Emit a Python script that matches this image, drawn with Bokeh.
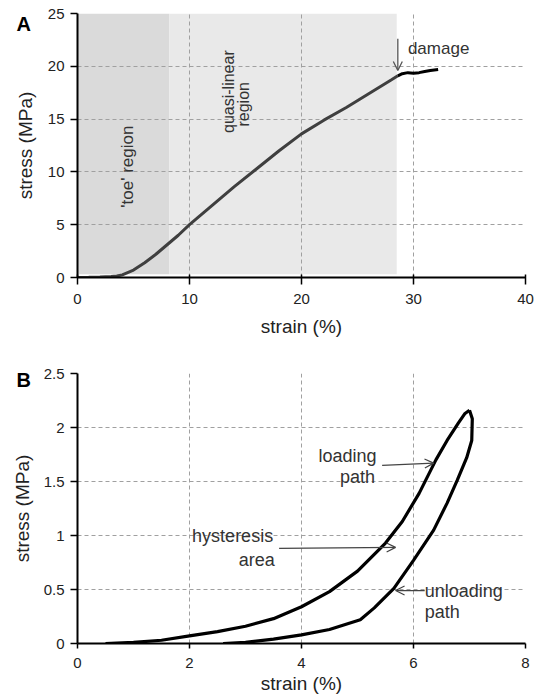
import numpy as np
from bokeh.plotting import figure
from bokeh.layouts import column
from bokeh.models import FixedTicker, Arrow, OpenHead
from bokeh.core.properties import value
from bokeh.embed import file_html
from bokeh.resources import INLINE

# ---------------- data: panel A ----------------
strain_a = [0, 1, 2, 3, 3.5, 4, 5, 6, 7, 8, 9, 10, 12, 14, 16, 18, 20, 22, 24, 26, 28, 28.6]
stress_a = [0, 0.02, 0.05, 0.1, 0.15, 0.25, 0.7, 1.4, 2.2, 3.1, 4.0, 5.0, 6.8, 8.6, 10.3, 12.0, 13.6, 14.9, 16.1, 17.4, 18.7, 19.1]
strain_dmg = [28.6, 29.0, 29.5, 30.0, 30.5, 31.0, 31.5, 32.2]
stress_dmg = [19.1, 19.3, 19.4, 19.35, 19.4, 19.5, 19.6, 19.7]
toe_region = [0, 8.2]
linear_region = [8.2, 28.5]
ticks_ax = [0, 10, 20, 30, 40]
ticks_ay = [0, 5, 10, 15, 20, 25]

# ---------------- data: panel B ----------------
strain_load = [0.5, 1.0, 1.5, 2.0, 2.5, 3.0, 3.5, 4.0, 4.5, 5.0, 5.5, 5.8, 6.1, 6.4, 6.6, 6.8, 6.92, 7.0]
stress_load = [0, 0.01, 0.03, 0.07, 0.11, 0.16, 0.23, 0.34, 0.48, 0.67, 0.93, 1.13, 1.39, 1.70, 1.88, 2.04, 2.13, 2.16]
strain_unload = [7.0, 7.05, 7.04, 6.95, 6.78, 6.6, 6.36, 6.0, 5.65, 5.3, 5.05, 4.5, 4.0, 3.5, 3.0, 2.6]
stress_unload = [2.16, 2.08, 1.88, 1.72, 1.51, 1.3, 1.05, 0.77, 0.51, 0.33, 0.22, 0.13, 0.08, 0.04, 0.01, 0]
ticks_bx = [0, 2, 4, 6, 8]
ticks_by = [0, 0.5, 1, 1.5, 2, 2.5]
labels_by = {0: "0", 0.5: "0.5", 1: "1", 1.5: "1.5", 2: "2", 2.5: "2.5"}

FONT = "Liberation Sans"
TXT = "#333333"


def style(p, xt, yt):
    p.outline_line_color = None
    p.background_fill_color = "white"
    p.border_fill_color = "white"
    for ax in (p.xaxis[0], p.yaxis[0]):
        ax.axis_line_color = "black"
        ax.axis_line_width = 2
        ax.major_tick_line_color = "black"
        ax.major_tick_line_width = 1.5
        ax.major_tick_in = 0
        ax.minor_tick_line_color = None
        ax.major_label_text_font = FONT
        ax.major_label_text_font_size = "15px"
        ax.major_label_text_color = "#222222"
        ax.axis_label_text_font = FONT
        ax.axis_label_text_font_size = "19px"
        ax.axis_label_text_font_style = "normal"
        ax.axis_label_text_color = "#222222"
    p.yaxis[0].major_tick_out = 7
    p.yaxis[0].major_label_standoff = 6
    p.xaxis[0].ticker = FixedTicker(ticks=xt)
    p.yaxis[0].ticker = FixedTicker(ticks=yt)
    for g in (p.xgrid[0], p.ygrid[0]):
        g.grid_line_color = "#a0a0a0"
        g.grid_line_dash = "4 3"
        g.grid_line_width = 1
        g.level = "image"
    p.title.text_font = FONT
    p.title.text_font_size = "20px"
    p.title.text_font_style = "bold"
    p.title.text_color = "black"
    p.title.align = "left"
    p.title.offset = -61
    p.title.standoff = -34


# ---------------- panel A ----------------
pa = figure(width=535, height=345, x_range=(0, 40), y_range=(0, 25), title="A",
            output_backend="svg", toolbar_location=None,
            min_border_left=77, min_border_right=9, min_border_top=13, min_border_bottom=68,
            x_axis_label="strain (%)", y_axis_label="stress (MPa)")
style(pa, ticks_ax, ticks_ay)
pa.title.standoff = -42
pa.xaxis[0].major_tick_out = 7
pa.xaxis[0].major_tick_in = 3
pa.xaxis[0].major_label_standoff = 9
pa.xaxis[0].axis_label_standoff = 9
pa.yaxis[0].axis_label_standoff = 9
pa.quad(left=[toe_region[0]], right=[toe_region[1]], bottom=[0.3], top=[25],
        fill_color="#dadada", line_color=None, level="image")
pa.quad(left=[linear_region[0]], right=[linear_region[1]], bottom=[0.3], top=[25],
        fill_color="#e9e9e9", line_color=None, level="image")
pa.line(strain_a, stress_a, line_color="#3f3f3f", line_width=3)
pa.line(strain_dmg, stress_dmg, line_color="black", line_width=3)
pa.add_layout(Arrow(x_start=28.6, y_start=22.6, x_end=28.6, y_end=19.6,
                    line_color="#555555", line_width=1.3,
                    end=OpenHead(size=9, line_color="#555555", line_width=1.3)))
pa.text(x=[29.5], y=[21.7], text=["damage"], text_font=value(FONT),
        text_font_size="17px", text_color=TXT, text_align="left", text_baseline="middle")
pa.text(x=[4.5], y=[10.5], text=["'toe' region"], angle=np.pi / 2, text_font=value(FONT),
        text_font_size="17px", text_color=TXT, text_align="center", text_baseline="middle")
pa.text(x=[13.5, 14.8], y=[17.6, 16.4], text=["quasi-linear", "region"], angle=np.pi / 2,
        text_font=value(FONT), text_font_size="16px", text_color=TXT,
        text_align="center", text_baseline="middle")

# ---------------- panel B ----------------
pb = figure(width=535, height=355, x_range=(0, 8), y_range=(0, 2.5), title="B",
            output_backend="svg", toolbar_location=None,
            min_border_left=77, min_border_right=10, min_border_top=28, min_border_bottom=57,
            x_axis_label="strain (%)", y_axis_label="stress (MPa)")
style(pb, ticks_bx, ticks_by)
pb.xaxis[0].major_tick_out = 5
pb.xaxis[0].major_label_standoff = 9
pb.xaxis[0].axis_label_standoff = 2
pb.yaxis[0].axis_label_standoff = 8
pb.yaxis[0].major_label_overrides = labels_by
pb.line(strain_load, stress_load, line_color="black", line_width=3.2)
pb.line(strain_unload, stress_unload, line_color="black", line_width=3.2)

arrow_kw = dict(line_color="#444444", line_width=1.2)
pb.add_layout(Arrow(x_start=5.44, y_start=1.65, x_end=6.36, y_end=1.67,
                    end=OpenHead(size=9, **arrow_kw), **arrow_kw))
pb.add_layout(Arrow(x_start=3.6, y_start=0.88, x_end=5.68, y_end=0.89,
                    end=OpenHead(size=9, **arrow_kw), **arrow_kw))
pb.add_layout(Arrow(x_start=6.2, y_start=0.49, x_end=5.68, y_end=0.49,
                    end=OpenHead(size=9, **arrow_kw), **arrow_kw))

pb.text(x=[4.82, 5.0], y=[1.74, 1.54], text=["loading", "path"], text_font=value(FONT),
        text_font_size="18px", text_color=TXT, text_align="center", text_baseline="middle")
pb.text(x=[2.77, 3.2], y=[1.0, 0.77], text=["hysteresis", "area"], text_font=value(FONT),
        text_font_size="18px", text_color=TXT, text_align="center", text_baseline="middle")
pb.text(x=[6.2, 6.2], y=[0.49, 0.29], text=["unloading", "path"], text_font=value(FONT),
        text_font_size="18px", text_color=TXT, text_align="left", text_baseline="middle")

layout = column(pa, pb, spacing=0)
open("out.html", "w").write(file_html(layout, INLINE))
